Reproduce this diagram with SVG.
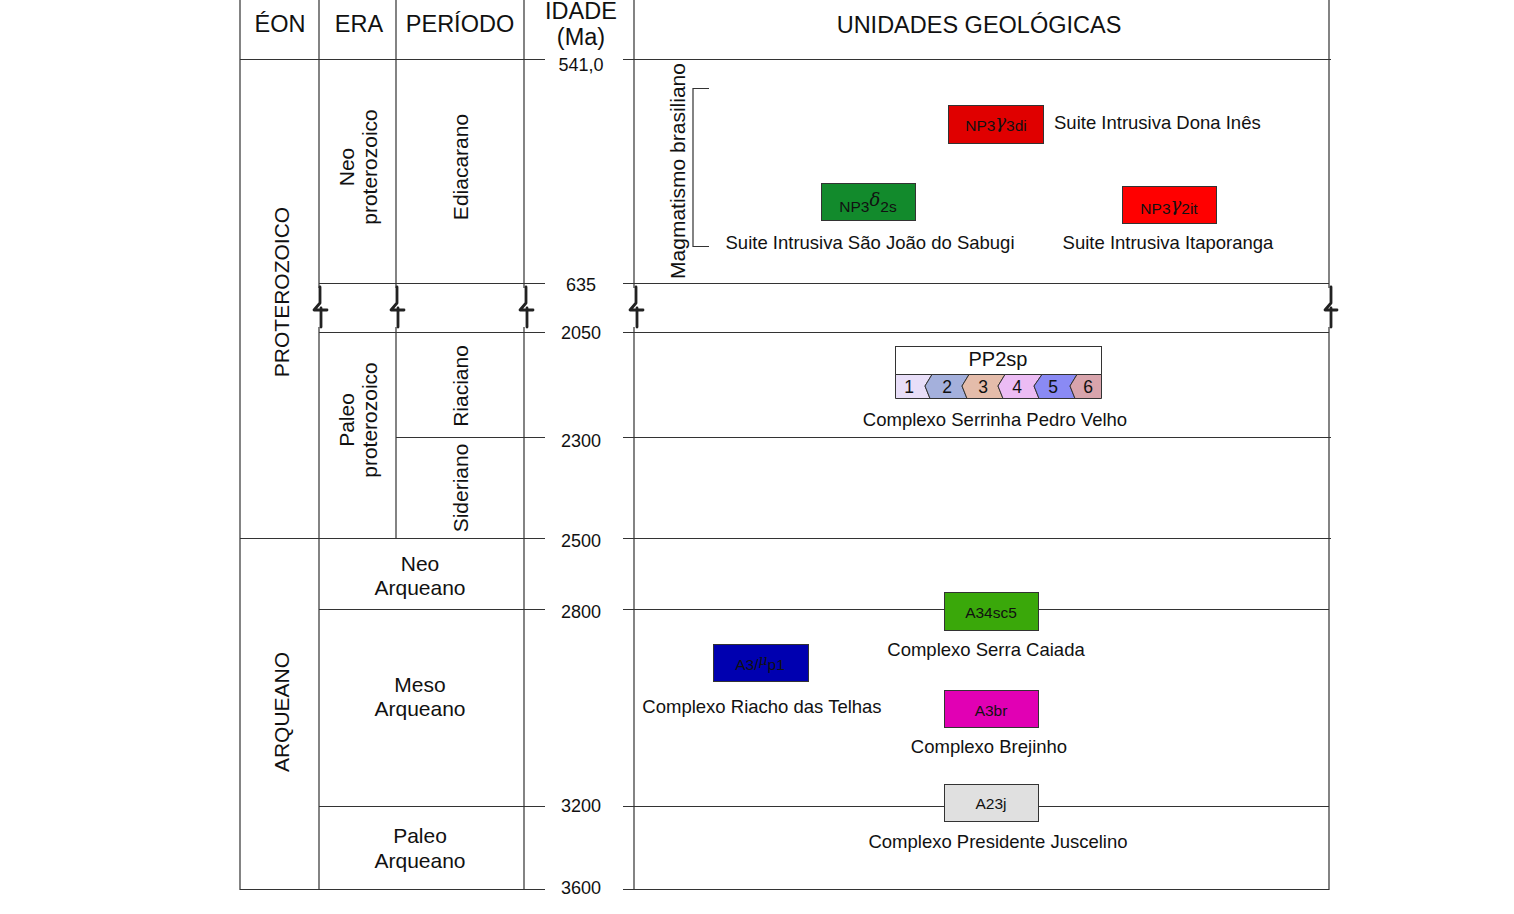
<svg xmlns="http://www.w3.org/2000/svg" width="1514" height="914" viewBox="0 0 1514 914">
<style>
text{font-family:"Liberation Sans",Arial,sans-serif;fill:#111}
.hd{font-size:23.5px;text-anchor:middle}
.age{font-size:18px;text-anchor:middle}
.col{font-size:21px;text-anchor:middle}
.lbl{font-size:18.5px;text-anchor:middle}
.bx{font-size:15.5px;text-anchor:middle}
.gr{font-family:"DejaVu Serif","Liberation Serif",serif;font-style:italic}
.ln{stroke:#333;stroke-width:1.2;fill:none}
.brk{stroke:#222;stroke-width:2.8;fill:none;stroke-linejoin:round;stroke-linecap:round}
.box{stroke:#333;stroke-width:1}
</style>
<rect width="1514" height="914" fill="#fff"/>
<g id="grid">
<path class="ln" d="M240,0V890 M319,0V288 M319,327V890 M396,0V288 M396,327V538 M524,0V288 M524,327V890 M634,0V288 M634,327V890 M1329,0V288 M1329,327V890"/>
<path class="ln" d="M240,59.5H545 M623,59.5H1331 M319,283.5H545 M623,283.5H1329 M319,332.5H545 M623,332.5H1329 M396,437.5H545 M623,437.5H1331 M240,538.5H545 M623,538.5H1331 M319,609.5H545 M623,609.5H1329 M319,806.5H545 M623,806.5H1329 M240,889.5H545 M623,889.5H1329"/>
<g id="breaks">
<path class="brk" d="M320,287V303L314,310H327 M321,308V327"/>
<path class="brk" d="M397,287V303L391,310H404 M398,308V327"/>
<path class="brk" d="M526,287V303L520,310H533 M527,308V327"/>
<path class="brk" d="M636,287V303L630,310H643 M637,308V327"/>
<path class="brk" d="M1331,287V303L1325,310H1337 M1331,308V327"/>
</g>
</g>
<g id="headers">
<text class="hd" x="280" y="32">ÉON</text>
<text class="hd" x="359" y="32">ERA</text>
<text class="hd" x="460" y="32">PERÍODO</text>
<text class="hd" x="581" y="19">IDADE</text>
<text class="hd" x="581" y="45">(Ma)</text>
<text class="hd" x="979" y="33">UNIDADES GEOLÓGICAS</text>
</g>
<g id="ages">
<text class="age" x="581" y="71">541,0</text>
<text class="age" x="581" y="291">635</text>
<text class="age" x="581" y="339">2050</text>
<text class="age" x="581" y="447">2300</text>
<text class="age" x="581" y="547">2500</text>
<text class="age" x="581" y="618">2800</text>
<text class="age" x="581" y="812">3200</text>
<text class="age" x="581" y="894">3600</text>
</g>
<g id="eons">
<text class="col" transform="translate(288.5,292) rotate(-90)">PROTEROZOICO</text>
<text class="col" transform="translate(288.5,712) rotate(-90)">ARQUEANO</text>
</g>
<g id="eras">
<text class="col" transform="translate(353.5,167) rotate(-90)">Neo</text>
<text class="col" transform="translate(377,167) rotate(-90)">proterozoico</text>
<text class="col" transform="translate(353.5,420) rotate(-90)">Paleo</text>
<text class="col" transform="translate(377,420) rotate(-90)">proterozoico</text>
<text class="col" x="420" y="571">Neo</text>
<text class="col" x="420" y="595">Arqueano</text>
<text class="col" x="420" y="692">Meso</text>
<text class="col" x="420" y="716">Arqueano</text>
<text class="col" x="420" y="843">Paleo</text>
<text class="col" x="420" y="868">Arqueano</text>
</g>
<g id="periods">
<text class="col" transform="translate(467.5,167) rotate(-90)">Ediacarano</text>
<text class="col" transform="translate(467.5,386) rotate(-90)">Riaciano</text>
<text class="col" transform="translate(467.5,488) rotate(-90)">Sideriano</text>
</g>
<g id="magmatismo">
<text transform="translate(685,171) rotate(-90)" style="font-size:21px;text-anchor:middle">Magmatismo brasiliano</text>
<path class="ln" d="M709,88.5H693V246.5H709"/>
</g>
<g id="np3g3di">
<rect class="box" x="948.5" y="105.5" width="95" height="38" fill="#e00000"/>
<text class="bx" x="996" y="131">NP3<tspan class="gr" font-size="18" dy="-3">γ</tspan><tspan dy="3">3di</tspan></text>
<text class="lbl" x="1054" y="128.5" style="text-anchor:start">Suite Intrusiva Dona Inês</text>
</g>
<g id="np3d2s">
<rect class="box" x="821.5" y="183.5" width="94" height="37" fill="#128a2c"/>
<text class="bx" x="868" y="212">NP3<tspan class="gr" font-size="18" dy="-6">δ</tspan><tspan dy="6">2s</tspan></text>
<text class="lbl" x="870" y="248.5">Suite Intrusiva São João do Sabugi</text>
</g>
<g id="np3g2it">
<rect class="box" x="1122.5" y="186.5" width="94" height="37" fill="#ff0000"/>
<text class="bx" x="1169" y="213.5">NP3<tspan class="gr" font-size="18" dy="-3">γ</tspan><tspan dy="3">2it</tspan></text>
<text class="lbl" x="1168" y="249">Suite Intrusiva Itaporanga</text>
</g>
<g id="pp2sp">
<rect class="box" x="895.5" y="346.5" width="206" height="28" fill="#fff"/>
<text x="998" y="366" style="font-size:20px;text-anchor:middle">PP2sp</text>
<path class="box" d="M895.5,374.5H932L925,386L930,398.5H895.5Z" fill="#e8def8"/>
<path class="box" d="M932,374.5H969L962,386L967,398.5H930L925,386Z" fill="#a4b0dc"/>
<path class="box" d="M969,374.5H1005L998,386L1003,398.5H967L962,386Z" fill="#e4bcaa"/>
<path class="box" d="M1005,374.5H1042L1034,386L1039,398.5H1003L998,386Z" fill="#ecbcf4"/>
<path class="box" d="M1042,374.5H1077L1070,386L1075,398.5H1039L1034,386Z" fill="#8a8af4"/>
<path class="box" d="M1077,374.5H1101.5V398.5H1075L1070,386Z" fill="#d8a4ac"/>
<g style="font-size:17.5px;text-anchor:middle">
<text x="909" y="393">1</text>
<text x="947" y="393">2</text>
<text x="983" y="393">3</text>
<text x="1017" y="393">4</text>
<text x="1053" y="393">5</text>
<text x="1088" y="393">6</text>
</g>
<text class="lbl" x="995" y="426">Complexo Serrinha Pedro Velho</text>
</g>
<g id="a34sc5">
<rect class="box" x="944.5" y="592.5" width="94" height="38" fill="#3aa80a"/>
<text class="bx" x="991" y="618">A34sc5</text>
<text class="lbl" x="986" y="656">Complexo Serra Caiada</text>
</g>
<g id="a3mp1">
<rect class="box" x="713.5" y="644.5" width="95" height="37" fill="#0000b0"/>
<text class="bx" x="760" y="670">A3/<tspan class="gr" font-size="14" dy="-5">μ</tspan><tspan dy="5">p1</tspan></text>
<text class="lbl" x="762" y="713">Complexo Riacho das Telhas</text>
</g>
<g id="a3br">
<rect class="box" x="944.5" y="690.5" width="94" height="37" fill="#e100b4"/>
<text class="bx" x="991" y="716">A3br</text>
<text class="lbl" x="989" y="753">Complexo Brejinho</text>
</g>
<g id="a23j">
<rect class="box" x="944.5" y="784.5" width="94" height="37" fill="#e0e0e0"/>
<text class="bx" x="991" y="809">A23j</text>
<text class="lbl" x="998" y="848">Complexo Presidente Juscelino</text>
</g>
</svg>
